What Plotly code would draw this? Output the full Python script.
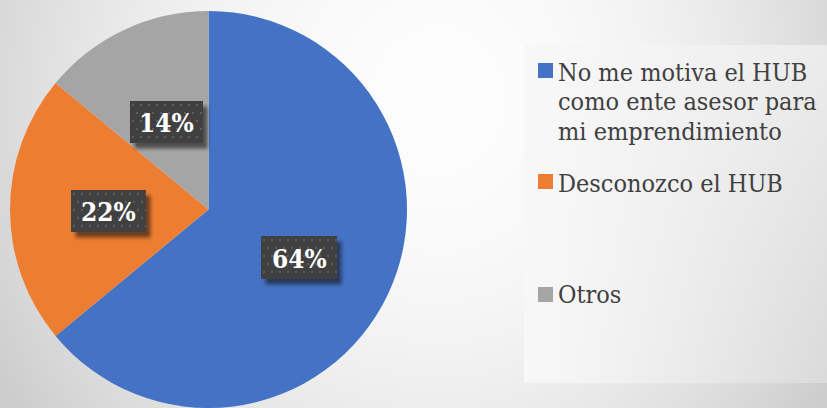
import base64
import struct
import textwrap
import zlib

import numpy as np
import plotly.graph_objects as go

# ---- data -------------------------------------------------------------
labels = [
    "No me motiva el HUB como ente asesor para mi emprendimiento",
    "Desconozco el HUB",
    "Otros",
]
values = [64, 22, 14]
colors = ["#4472C4", "#ED7D31", "#A5A5A5"]

# ---- page geometry (pixels) -----------------------------------------
W, H = 827, 408
SERIF = "DejaVu Serif Condensed"

# percentage label boxes: (left, top, right, bottom) in px
label_boxes = [(261, 236, 337, 279), (71, 190, 146, 232), (130, 101, 203, 143)]
# legend: marker top per entry, baselines of each text line
legend_marker_top = [63, 174, 287]
legend_baselines = [[81, 110, 140], [192], [303]]
legend_text_x = 556
legend_marker_x = 538
legend_font = 25
pct_font = 26


def px_x(x):
    return x / W


def px_y(y):
    return 1 - y / H


def png_uri(rgba):
    rgba = np.ascontiguousarray(rgba.astype(np.uint8))
    h, w, _ = rgba.shape
    raw = b"".join(b"\x00" + rgba[i].tobytes() for i in range(h))

    def chunk(tag, data):
        return (struct.pack(">I", len(data)) + tag + data
                + struct.pack(">I", zlib.crc32(tag + data) & 0xFFFFFFFF))

    ihdr = struct.pack(">IIBBBBB", w, h, 8, 6, 0, 0, 0)
    png = (b"\x89PNG\r\n\x1a\n" + chunk(b"IHDR", ihdr)
           + chunk(b"IDAT", zlib.compress(raw, 9)) + chunk(b"IEND", b""))
    return "data:image/png;base64," + base64.b64encode(png).decode()


def gray_rgba(b, alpha=None):
    b = np.clip(b, 0, 255)
    a = np.full_like(b, 255.0) if alpha is None else alpha
    return np.dstack([b, b, b, a])


def add_img(images, arr, x0, y0, layer):
    h, w = arr.shape[:2]
    images.append(dict(
        source=png_uri(arr), xref="paper", yref="paper",
        x=px_x(x0), y=px_y(y0), sizex=w / W, sizey=h / H,
        xanchor="left", yanchor="top", sizing="stretch", layer=layer,
    ))


images = []

# soft slide background: bright in the middle, grey toward the edges
yy, xx = np.mgrid[0:H, 0:W].astype(float)
dx = (xx - 440) / np.where(xx < 440, 440.0, 390.0)
dy = (yy - 100) / 300.0
bg = 253 - 35 * dx ** 2 - 15 * dy ** 2
add_img(images, gray_rgba(np.clip(bg, 205, 255)), 0, 0, "below")

# legend panel with its own light gradient
lx0, ly0, lx1, ly1 = 524, 45, W, 383
py, pxx = np.mgrid[0:ly1 - ly0, 0:lx1 - lx0].astype(float)
xn = pxx / (lx1 - lx0)
yn = py / (ly1 - ly0)
panel = 248 - xn ** 1.3 * (12 + 18 * yn)
add_img(images, gray_rgba(panel), lx0, ly0, "below")


def smooth(t):
    t = np.clip(t, 0, 1)
    return t * t * (3 - 2 * t)


# label boxes: soft drop shadow, then dark dotted fill
for (x0, y0, x1, y1) in label_boxes:
    off_x, off_y, blur, pad = 4, 5, 4.0, 10
    sx0, sy0 = x0 + off_x - pad, y0 + off_y - pad
    sw, sh = (x1 - x0) + 2 * pad, (y1 - y0) + 2 * pad
    gy, gx = np.mgrid[0:sh, 0:sw].astype(float)
    ax = np.minimum(gx - pad, (sw - pad) - gx)
    ay = np.minimum(gy - pad, (sh - pad) - gy)
    alpha = 150 * smooth((ax + blur) / (2 * blur)) * smooth((ay + blur) / (2 * blur))
    add_img(images, gray_rgba(np.zeros((sh, sw)) + 20, alpha), sx0, sy0, "above")

    bw, bh = x1 - x0, y1 - y0
    fill = np.full((bh, bw), 64.0)
    for r in range(3, bh, 8):
        shift = 4 if (r // 8) % 2 else 0
        for c in range(2 + shift, bw, 8):
            fill[r:r + 2, c:c + 2] = 92
    add_img(images, gray_rgba(fill), x0, y0, "above")

fig = go.Figure(go.Pie(
    labels=labels,
    values=values,
    marker=dict(colors=colors, line=dict(width=0)),
    sort=False,
    direction="clockwise",
    rotation=0,
    textinfo="none",
    hoverinfo="label+percent",
    domain=dict(x=[px_x(9), px_x(408)], y=[0, 0.973]),
    showlegend=False,
))

annotations = []
for v, (x0, y0, x1, y1) in zip(values, label_boxes):
    annotations.append(dict(
        text=f"<b>{v}%</b>", x=px_x((x0 + x1) / 2), y=px_y((y0 + y1) / 2 + 1),
        xref="paper", yref="paper", showarrow=False,
        xanchor="center", yanchor="middle",
        font=dict(family=SERIF, size=pct_font, color="white"),
    ))

shapes = []
for lab, col, mtop, bases in zip(labels, colors, legend_marker_top, legend_baselines):
    shapes.append(dict(
        type="rect", xref="paper", yref="paper",
        x0=px_x(legend_marker_x), x1=px_x(legend_marker_x + 15),
        y0=px_y(mtop + 15), y1=px_y(mtop),
        fillcolor=col, line=dict(width=0), layer="above",
    ))
    lines = textwrap.wrap(lab, 21)
    for line, base in zip(lines, bases):
        annotations.append(dict(
            text=line, x=px_x(legend_text_x), y=px_y(base - 0.335 * legend_font),
            xref="paper", yref="paper", showarrow=False,
            xanchor="left", yanchor="middle",
            font=dict(family=SERIF, size=legend_font, color="#404040"),
        ))

fig.update_layout(
    width=W, height=H,
    margin=dict(l=0, r=0, t=0, b=0),
    font=dict(family=SERIF),
    paper_bgcolor="#e6e6e6",
    plot_bgcolor="rgba(0,0,0,0)",
    images=images,
    shapes=shapes,
    annotations=annotations,
)

fig.write_html("out.html", config=dict(displayModeBar=False))
